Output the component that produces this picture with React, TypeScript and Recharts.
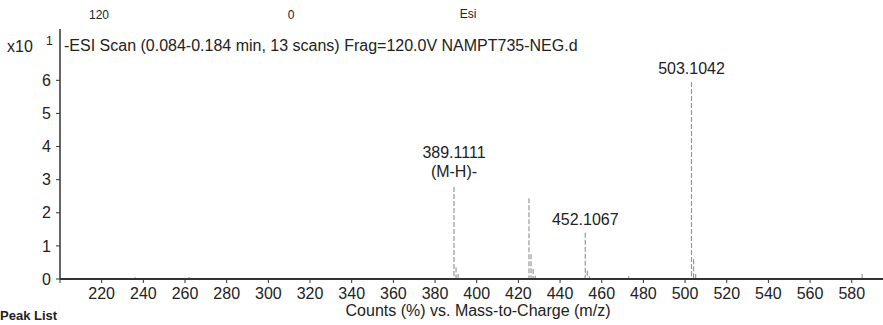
import React from 'react';
import { ComposedChart, Bar, XAxis, YAxis, LabelList, Customized } from 'recharts';

// m/z values of the sticks
const mzValues = [236.0, 262.0, 389.1111, 390.1, 391.1, 425.1, 426.1, 427.1, 428.1, 452.1067, 453.1, 454.1, 473.0, 503.1042, 504.1, 505.1, 585.0];
// counts (x10^1 %)
const countValues = [0.05, 0.06, 2.78, 0.35, 0.15, 2.44, 0.75, 0.3, 0.1, 1.4, 0.25, 0.08, 0.08, 5.95, 0.6, 0.15, 0.15];
// peak annotations
const peakLabels = ['', '', '389.1111|(M-H)-', '', '', '', '', '', '', '452.1067', '', '', '', '503.1042', '', '', ''];

const xTicks = [200, 220, 240, 260, 280, 300, 320, 340, 360, 380, 400, 420, 440, 460, 480, 500, 520, 540, 560, 580];
const yTicks = [0, 1, 2, 3, 4, 5, 6];

const data = mzValues.map((mz, i) => ({ mz, count: countValues[i], label: peakLabels[i] }));

const FONT = 'Liberation Sans, Arial, sans-serif';

const Stick = (props: any) => {
  const { x, y, width, height } = props;
  if (height == null || height <= 0) return null;
  const cx = x + width / 2;
  return (
    <line x1={cx} y1={y} x2={cx} y2={y + height} stroke="#999" strokeWidth={1.2} strokeDasharray="5 2" />
  );
};

const PeakLabel = (props: any) => {
  const { x, y, width, value } = props;
  if (!value) return null;
  const cx = x + width / 2;
  const lines = String(value).split('|');
  if (lines.length === 2) {
    return (
      <g>
        <text x={cx} y={y - 34} textAnchor="middle" dominantBaseline="central" fontSize={16} fontFamily={FONT} fill="#222">{lines[0]}</text>
        <text x={cx} y={y - 15} textAnchor="middle" dominantBaseline="central" fontSize={16} fontFamily={FONT} fill="#222">{lines[1]}</text>
      </g>
    );
  }
  return (
    <text x={cx} y={y - 13} textAnchor="middle" dominantBaseline="central" fontSize={16} fontFamily={FONT} fill="#222">{lines[0]}</text>
  );
};

const Annotations = () => (
  <g fontFamily={FONT}>
    <text x={99} y={15} textAnchor="middle" dominantBaseline="central" fontSize={12} fill="#222">120</text>
    <text x={291} y={15} textAnchor="middle" dominantBaseline="central" fontSize={12} fill="#222">0</text>
    <text x={468} y={14} textAnchor="middle" dominantBaseline="central" fontSize={12} fill="#222">Esi</text>
    <text x={7} y={46} dominantBaseline="central" fontSize={16} fill="#222">x10</text>
    <text x={46} y={41} dominantBaseline="central" fontSize={12} fill="#222">1</text>
    <text x={64} y={45} dominantBaseline="central" fontSize={16} fill="#222">-ESI Scan (0.084-0.184 min, 13 scans) Frag=120.0V NAMPT735-NEG.d</text>
    <text x={478} y={310} textAnchor="middle" dominantBaseline="central" fontSize={16} fill="#222">Counts (%) vs. Mass-to-Charge (m/z)</text>
    <text x={0} y={320} fontSize={13} fontWeight="bold" fill="#222">Peak List</text>
  </g>
);

export default function App() {
  return (
    <div style={{ position: 'absolute', left: 0, top: 0, width: 883, height: 325, background: '#fff', overflow: 'hidden' }}>
      <ComposedChart
        width={883}
        height={325}
        data={data}
        margin={{ top: 29, right: 0, left: 0, bottom: 0 }}
      >
        <XAxis
          xAxisId="top"
          orientation="top"
          dataKey="mz"
          type="number"
          domain={[200, 595]}
          height={0}
          tick={false}
          tickLine={false}
          axisLine={{ stroke: '#9a9a9a', strokeWidth: 1.2 }}
        />
        <XAxis
          dataKey="mz"
          type="number"
          domain={[200, 595]}
          ticks={xTicks}
          interval={0}
          allowDataOverflow
          height={46}
          tickSize={4}
          tickMargin={5}
          tickFormatter={(v: number) => (v === 200 ? '' : String(v))}
          tick={{ fontSize: 16, fill: '#222', fontFamily: FONT }}
          axisLine={{ stroke: '#333', strokeWidth: 2 }}
          tickLine={{ stroke: '#333' }}
        />
        <YAxis
          type="number"
          domain={[0, 7.55]}
          ticks={yTicks}
          interval={0}
          allowDataOverflow
          width={60}
          tickSize={4}
          tickMargin={5}
          tick={{ fontSize: 16, fill: '#222', fontFamily: FONT }}
          axisLine={{ stroke: '#333', strokeWidth: 1.5 }}
          tickLine={{ stroke: '#333' }}
        />
        <Bar dataKey="count" barSize={2} shape={<Stick />} isAnimationActive={false}>
          <LabelList dataKey="label" content={<PeakLabel />} />
        </Bar>
        <Customized component={Annotations} />
      </ComposedChart>
    </div>
  );
}
